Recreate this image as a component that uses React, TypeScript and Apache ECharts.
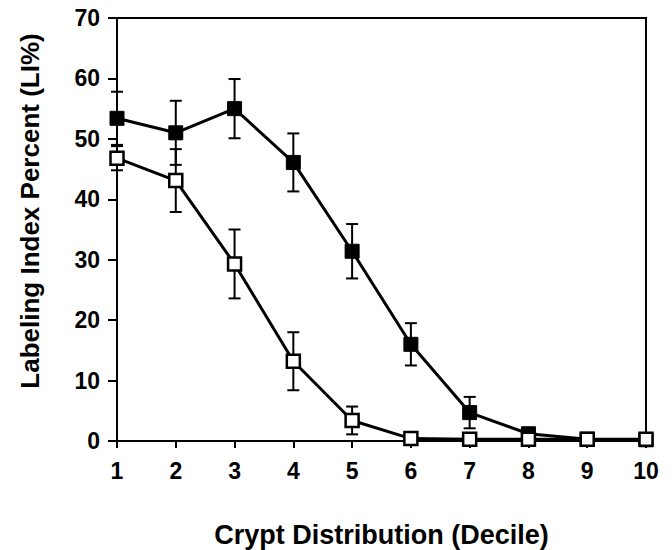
import React, { useEffect, useRef } from "react";
import * as echarts from "echarts";

const deciles = [1, 2, 3, 4, 5, 6, 7, 8, 9, 10];
const filledMean = [53.4, 51.0, 55.0, 46.1, 31.4, 16.0, 4.7, 1.2, 0.3, 0.2];
const filledErr = [4.4, 5.3, 4.9, 4.8, 4.5, 3.5, 2.6, 0, 0, 0];
const openMean = [46.8, 43.1, 29.3, 13.2, 3.4, 0.4, 0.3, 0.3, 0.3, 0.3];
const openErr = [2.0, 5.2, 5.7, 4.8, 2.3, 0, 0, 0, 0, 0];
const yTicks = [0, 10, 20, 30, 40, 50, 60, 70];

const FONT = "Liberation Sans, Arial, sans-serif";

function errorData(mean: number[], err: number[]) {
  return deciles.map((d, i) => [d, mean[i] - err[i], mean[i] + err[i]]);
}

function errorRender(params: any, api: any) {
  const x = api.value(0);
  const lo = api.coord([x, api.value(1)]);
  const hi = api.coord([x, api.value(2)]);
  if (Math.abs(hi[1] - lo[1]) < 1) return { type: "group", children: [] };
  const hw = 6;
  const style = { stroke: "#000", lineWidth: 2 };
  return {
    type: "group",
    children: [
      { type: "line", shape: { x1: lo[0], y1: lo[1], x2: hi[0], y2: hi[1] }, style },
      { type: "line", shape: { x1: lo[0] - hw, y1: lo[1], x2: lo[0] + hw, y2: lo[1] }, style },
      { type: "line", shape: { x1: hi[0] - hw, y1: hi[1], x2: hi[0] + hw, y2: hi[1] }, style },
    ],
  };
}

export default function App() {
  const ref = useRef<HTMLDivElement>(null);
  useEffect(() => {
    if (!ref.current) return;
    const chart = echarts.init(ref.current, undefined, { renderer: "svg" });
    chart.setOption({
      animation: false,
      backgroundColor: "#fff",
      grid: {
        left: 117,
        right: 26,
        top: 18,
        bottom: 109,
        show: true,
        borderColor: "#000",
        borderWidth: 2,
        containLabel: false,
        outerBoundsMode: "none",
      },
      graphic: [
        {
          type: "text",
          x: 30,
          y: 211,
          rotation: Math.PI / 2,
          style: {
            text: "Labeling Index Percent (LI%)",
            fontFamily: FONT,
            fontWeight: "bold",
            fontSize: 26,
            fill: "#000",
            align: "center",
            verticalAlign: "middle",
          },
        },
      ],
      xAxis: {
        type: "value",
        min: 1,
        max: 10,
        interval: 1,
        name: "Crypt Distribution (Decile)",
        nameLocation: "middle",
        nameGap: 80,
        nameTextStyle: { fontFamily: FONT, fontWeight: "bold", fontSize: 27, color: "#000" },
        axisLine: { lineStyle: { color: "#000", width: 2 } },
        axisTick: { show: true, inside: false, length: 7, lineStyle: { color: "#000", width: 2 } },
        axisLabel: { fontFamily: FONT, fontWeight: "bold", fontSize: 23, color: "#000", margin: 18 },
        splitLine: { show: false },
      },
      yAxis: {
        type: "value",
        min: yTicks[0],
        max: yTicks[yTicks.length - 1],
        interval: 10,
        axisLine: { lineStyle: { color: "#000", width: 2 } },
        axisTick: { show: true, inside: false, length: 9, lineStyle: { color: "#000", width: 2 } },
        axisLabel: { fontFamily: FONT, fontWeight: "bold", fontSize: 23, color: "#000", margin: 17 },
        splitLine: { show: false },
      },
      series: [
        {
          type: "custom",
          renderItem: errorRender,
          data: errorData(filledMean, filledErr),
          z: 1,
        },
        {
          type: "custom",
          renderItem: errorRender,
          data: errorData(openMean, openErr),
          z: 1,
        },
        {
          type: "line",
          data: deciles.map((d, i) => [d, filledMean[i]]),
          symbol: "rect",
          symbolSize: 14,
          lineStyle: { color: "#000", width: 3 },
          itemStyle: { color: "#000", borderColor: "#000", borderWidth: 1 },
          z: 3,
        },
        {
          type: "line",
          data: deciles.map((d, i) => [d, openMean[i]]),
          symbol: "rect",
          symbolSize: 13,
          lineStyle: { color: "#000", width: 3 },
          itemStyle: { color: "#fff", borderColor: "#000", borderWidth: 2.5 },
          z: 4,
        },
      ],
    });
    return () => chart.dispose();
  }, []);
  return <div ref={ref} style={{ width: 672, height: 550, position: "absolute", left: 0, top: 0 }} />;
}
